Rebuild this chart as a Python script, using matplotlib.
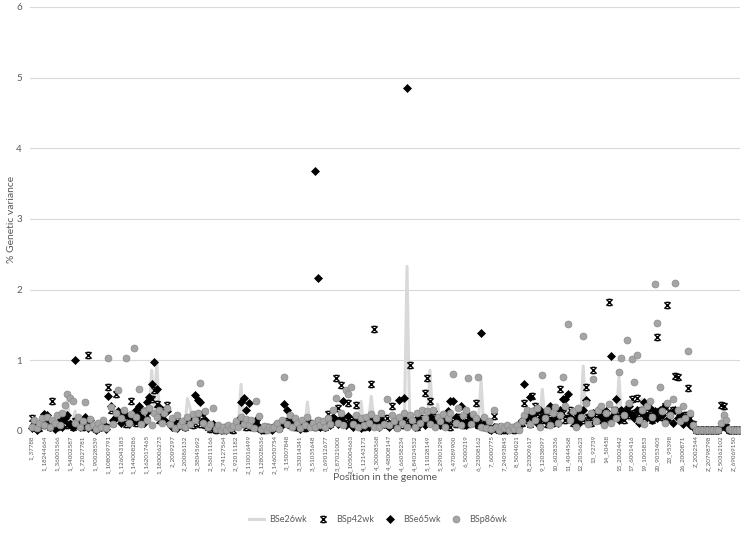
import matplotlib
matplotlib.use('Agg')
import matplotlib.pyplot as plt
import numpy as np
from matplotlib.path import Path

# ---------------- data ----------------
tick_labels = [
    "1_37788", "1_18244664", "1_36001566", "1_54002587", "1_72027781", "1_90028539",
    "1_108009791", "1_126043183", "1_144008286", "1_162017465", "1_180006273",
    "2_2009297", "2_20086132", "2_38045692", "2_56011166", "2_74127564", "2_92011182",
    "2_110016499", "2_128028636", "2_146050754", "3_15007848", "3_33014341", "3_51035648",
    "3_69012677", "3_87021000", "3_105004663", "4_12143173", "4_30008568", "4_48008147",
    "4_66058234", "4_84024532", "5_11028149", "5_29001298", "5_47089900", "6_5000219",
    "6_23008162", "7_6000775", "7_24093845", "8_5004021", "8_23009617", "9_12038097",
    "10_6028336", "11_4044568", "12_2056623", "13_92739", "14_50458", "15_2002442",
    "17_6001416", "19_1005853", "20_9053405", "23_95398", "26_2000871", "Z_2002544",
    "Z_20798798", "Z_50362102", "Z_69069150",
]
label_step = 5  # one tick label every 5 positions

bse26wk = [
    .04, .08, .05, .06, .10,  .06, .12, .08, .05, .10,  .08, .15, .10, .12, .44,
    .12, .10, .28, .08, .06,  .05, .08, .06, .10, .04,  .03, .06, .04, .08, .05,
    .10, .15, .12, .18, .14,  .12, .16, .10, .14, .18,  .15, .12, .18, .14, .20,
    .16, .22, .86, .30, .96,  .25, .14, .18, .12, .10,  .08, .05, .10, .06, .08,
    .05, .46, .33, .10, .12,  .14, .10, .12, .08, .06,  .04, .06, .03, .05, .04,
    .03, .05, .04, .03, .05,  .08, .10, .66, .12, .08,  .10, .06, .08, .12, .05,
    .03, .04, .02, .05, .03,  .04, .06, .05, .08, .10,  .08, .12, .06, .10, .08,
    .06, .08, .05, .41, .10,  .08, .12, .10, .06, .09,  .07, .10, .08, .12, .14,
    .10, .12, .08, .14, .10,  .12, .08, .10, .14, .42,  .10, .12, .14, .49, .16,
    .10, .12, .08, .14, .10,  .08, .10, .12, .08, .14,  .12, .16, 2.33, .20, .12,
    .10, .14, .12, .16, .18,  .14, .86, .20, .12, .38,  .12, .10, .14, .12, .10,
    .14, .12, .16, .10, .12,  .10, .12, .08, .14, .10,  .12, .72, .08, .05, .04,
    .03, .05, .02, .04, .03,  .02, .04, .03, .05, .02,  .04, .06, .08, .12, .10,
    .12, .10, .14, .12, .16,  .59, .14, .12, .16, .10,  .14, .12, .18, .14, .16,
    .28, .14, .12, .16, .18,  .14, .92, .20, .16, .12,  .18, .14, .20, .16, .14,
    .16, .20, .14, .18, .16,  .76, .18, .20, .40, .16,  .18, .14, .20, .16, .45,
    .20, .16, .14, .18, .22,  .16, .20, .14, .18, .16,  .14, .18, .16, .20, .14,
    .12, .16, .14, .10, .05,  .01, .01, .01, .01, .01,  .01, .01, .01, .01, .01,
    .05, .33, .08, .01, .01,  .01, .01, .01,
]

bsp42wk = [
    .19, .06, .10, .04, .12,  .08, .14, .05, .42, .10,  .06, .12, .20, .15, .08,
    .10, .05, .14, .08, .12,  .06, .10, 1.07, .14, .05,  .03, .08, .05, .10, .06,
    .62, .30, .12, .52, .20,  .15, .22, .10, .18, .42,  .20, .12, .25, .15, .28,
    .22, .30, .45, .58, .38,  .15, .30, .20, .37, .12,  .10, .05, .14, .08, .12,
    .06, .10, .15, .08, .12,  .18, .10, .14, .08, .05,  .03, .06, .02, .05, .03,
    .02, .05, .03, .04, .02,  .08, .12, .15, .10, .06,  .10, .05, .12, .08, .04,
    .03, .02, .05, .03, .04,  .05, .08, .04, .10, .12,  .14, .08, .12, .06, .10,
    .05, .10, .04, .08, .12,  .10, .06, .14, .08, .12,  .06, .24, .10, .15, .75,
    .33, .65, .18, .12, .40,  .15, .10, .37, .08, .12,  .06, .12, .10, .66, 1.45,
    .12, .08, .15, .10, .18,  .10, .35, .12, .06, .14,  .08, .15, .10, .94, .12,
    .10, .06, .14, .18, .54,  .75, .43, .20, .10, .15,  .12, .08, .16, .10, .06,
    .14, .10, .20, .12, .08,  .15, .10, .12, .18, .40,  .08, .12, .05, .10, .04,
    .03, .21, .05, .02, .04,  .02, .05, .03, .04, .02,  .06, .08, .12, .40, .15,
    .10, .49, .35, .18, .12,  .15, .22, .10, .18, .12,  .20, .14, .59, .25, .15,
    .18, .30, .12, .22, .15,  .25, .16, .62, .20, .12,  .86, .20, .15, .28, .18,
    .22, 1.82, .18, .30, .25,  .20, .28, .15, .30, .22,  .45, .25, .47, .20, .30,
    .18, .25, .30, .15, .22,  1.33, .28, .20, .35, 1.79,  .25, .30, .78, .76, .20,
    .15, .22, .61, .18, .10,  .01, .01, .01, .01, .01,  .01, .01, .01, .01, .01,
    .37, .35, .06, .01, .01,  .01, .01, .01,
]

bse65wk = [
    .04, .10, .02, .08, .12,  .24, .22, .06, .10, .03,  .08, .15, .05, .18, .22,
    .10, .06, 1.00, .12, .05,  .08, .20, .04, .15, .06,  .02, .08, .05, .10, .03,
    .49, .35, .15, .20, .28,  .12, .25, .22, .10, .18,  .15, .30, .36, .20, .12,
    .41, .48, .67, .98, .60,  .34, .22, .15, .28, .10,  .06, .12, .04, .10, .08,
    .05, .18, .10, .20, .51,  .44, .41, .26, .15, .08,  .05, .10, .03, .06, .02,
    .04, .02, .06, .03, .05,  .10, .15, .41, .46, .30,  .39, .12, .08, .16, .05,
    .02, .05, .03, .04, .02,  .06, .10, .04, .12, .38,  .30, .15, .08, .12, .06,
    .03, .10, .05, .14, .08,  .10, 3.68, 2.17, .06, .12,  .05, .12, .08, .20, .15,
    .10, .18, .42, .08, .21,  .12, .06, .16, .10, .04,  .08, .14, .05, .18, .10,
    .12, .06, .16, .10, .08,  .05, .12, .08, .15, .44,  .20, .47, 4.86, .15, .10,
    .06, .18, .10, .14, .08,  .12, .20, .28, .15, .10,  .08, .16, .12, .28, .42,
    .42, .20, .15, .35, .12,  .08, .22, .14, .18, .10,  .15, 1.38, .10, .05, .03,
    .02, .06, .03, .05, .02,  .04, .02, .05, .03, .06,  .05, .10, .15, .66, .22,
    .48, .18, .25, .12, .30,  .20, .15, .28, .35, .18,  .22, .12, .30, .45, .45,
    .53, .20, .15, .25, .10,  .18, .30, .44, .12, .22,  .25, .15, .30, .20, .12,
    .28, .18, 1.06, .22, .45,  .15, .30, .20, .28, .35,  .22, .18, .30, .12, .25,
    .41, .20, .32, .15, .28,  .18, .30, .22, .35, .15,  .25, .12, .30, .18, .22,
    .10, .20, .15, .08, .05,  .01, .01, .01, .01, .01,  .01, .01, .01, .01, .01,
    .05, .10, .04, .01, .01,  .01, .01, .01,
]

bsp86wk = [
    .06, .15, .04, .12, .18,  .09, .20, .05, .16, .11,  .22, .08, .25, .37, .52,
    .47, .42, .12, .20, .06,  .14, .41, .05, .17, .08,  .03, .12, .06, .15, .04,
    1.03, .34, .10, .26, .58,  .18, .30, 1.03, .12, .24,  1.17, .20, .60, .10, .28,
    .15, .32, .08, .26, .20,  .30, .12, .25, .33, .10,  .18, .04, .22, .08, .14,
    .05, .20, .10, .24, .16,  .25, .68, .12, .28, .06,  .10, .32, .03, .08, .02,
    .06, .02, .09, .04, .07,  .14, .05, .20, .10, .17,  .08, .15, .04, .43, .21,
    .03, .07, .02, .06, .04,  .05, .12, .03, .16, .77,  .10, .22, .06, .18, .12,
    .04, .15, .08, .20, .06,  .12, .05, .16, .09, .14,  .06, .18, .10, .30, .47,
    .12, .25, .08, .58, .52,  .62, .10, .22, .05, .18,  .08, .20, .12, .24, .06,
    .18, .05, .25, .10, .45,  .08, .22, .14, .04, .20,  .12, .26, .06, .22, .15,
    .05, .25, .12, .30, .18,  .28, .10, .30, .06, .20,  .14, .24, .05, .18, .26,
    .80, .12, .32, .08, .22,  .30, .75, .10, .24, .18,  .76, .06, .20, .04, .14,
    .03, .30, .05, .02, .07,  .04, .08, .02, .06, .03,  .09, .02, .14, .22, .30,
    .10, .28, .16, .32, .06,  .79, .18, .30, .08, .26,  .34, .12, .22, .77, .35,
    1.52, .15, .28, .06, .32,  .20, 1.35, .40, .10, .26,  .73, .14, .30, .36, .08,
    .25, .38, .12, .30, .18,  .84, 1.04, .22, 1.29, .40,  1.02, .70, 1.08, .16, .30,
    .10, .35, .42, .20, 2.08,  1.53, .62, .28, .12, .40,  .22, .45, 2.10, .30, .14,
    .36, .18, 1.13, .25, .08,  .01, .02, .01, .01, .02,  .01, .01, .02, .01, .01,
    .12, .22, .16, .03, .01,  .01, .02, .01,
]

# ---------------- figure ----------------
plt.rcParams['font.family'] = ['Lato', 'DejaVu Sans']
TXT = '#595959'

fig = plt.figure(figsize=(7.41, 5.40), dpi=100)
ax = fig.add_axes([30.4 / 741, 109 / 540, 709.8 / 741, 424 / 540])

n = len(bsp86wk)
x = np.arange(n)

ax.plot(x, bse26wk, color='#d9d9d9', lw=2.2, zorder=2, label='BSe26wk')

xmark = Path(
    [(-1, -1), (1, 1), (-1, 1), (1, -1), (-0.6, 1), (0.6, 1), (-0.6, -1), (0.6, -1)],
    [Path.MOVETO, Path.LINETO] * 4,
)
ax.plot(x, bsp42wk, ls='none', marker=xmark, ms=4.5, mec='black', mfc='none',
        mew=1.0, zorder=3, label='BSp42wk', clip_on=False)
ax.plot(x, bse65wk, ls='none', marker='D', ms=3.8, mfc='black', mec='black',
        mew=0.5, zorder=4, label='BSe65wk', clip_on=False)
ax.plot(x, bsp86wk, ls='none', marker='o', ms=5, mfc='#a5a5a5', mec='#8c8c8c',
        mew=0.5, zorder=5, label='BSp86wk', clip_on=False)

ax.set_xlim(-0.5, n - 0.5)
ax.set_ylim(0, 6)
ax.set_yticks(range(7))
ax.grid(axis='y', color='#d9d9d9', lw=0.8)
ax.set_axisbelow(True)
for s in ax.spines.values():
    s.set_visible(False)
ax.tick_params(axis='both', length=0, colors=TXT)
ax.tick_params(axis='y', labelsize=7, pad=6)
ax.set_xticks(np.arange(0, n, label_step)[:len(tick_labels)])
ax.set_xticklabels(tick_labels, rotation=90, fontsize=4.5)
ax.tick_params(axis='x', pad=3)

ax.set_ylabel('% Genetic variance', color=TXT, fontsize=7.5)
ax.yaxis.set_label_coords(-0.0196, 0.5)
ax.set_xlabel('Position in the genome', color=TXT, fontsize=7.5)
ax.xaxis.set_label_coords(0.4996, -0.1)

leg = fig.legend(loc='center', bbox_to_anchor=(378 / 741, 1 - 520 / 540), ncol=4,
                 frameon=False, fontsize=6.5, handlelength=1.7, columnspacing=0.9,
                 handletextpad=0.6, labelcolor=TXT)

fig.savefig('out.png', dpi=100)
